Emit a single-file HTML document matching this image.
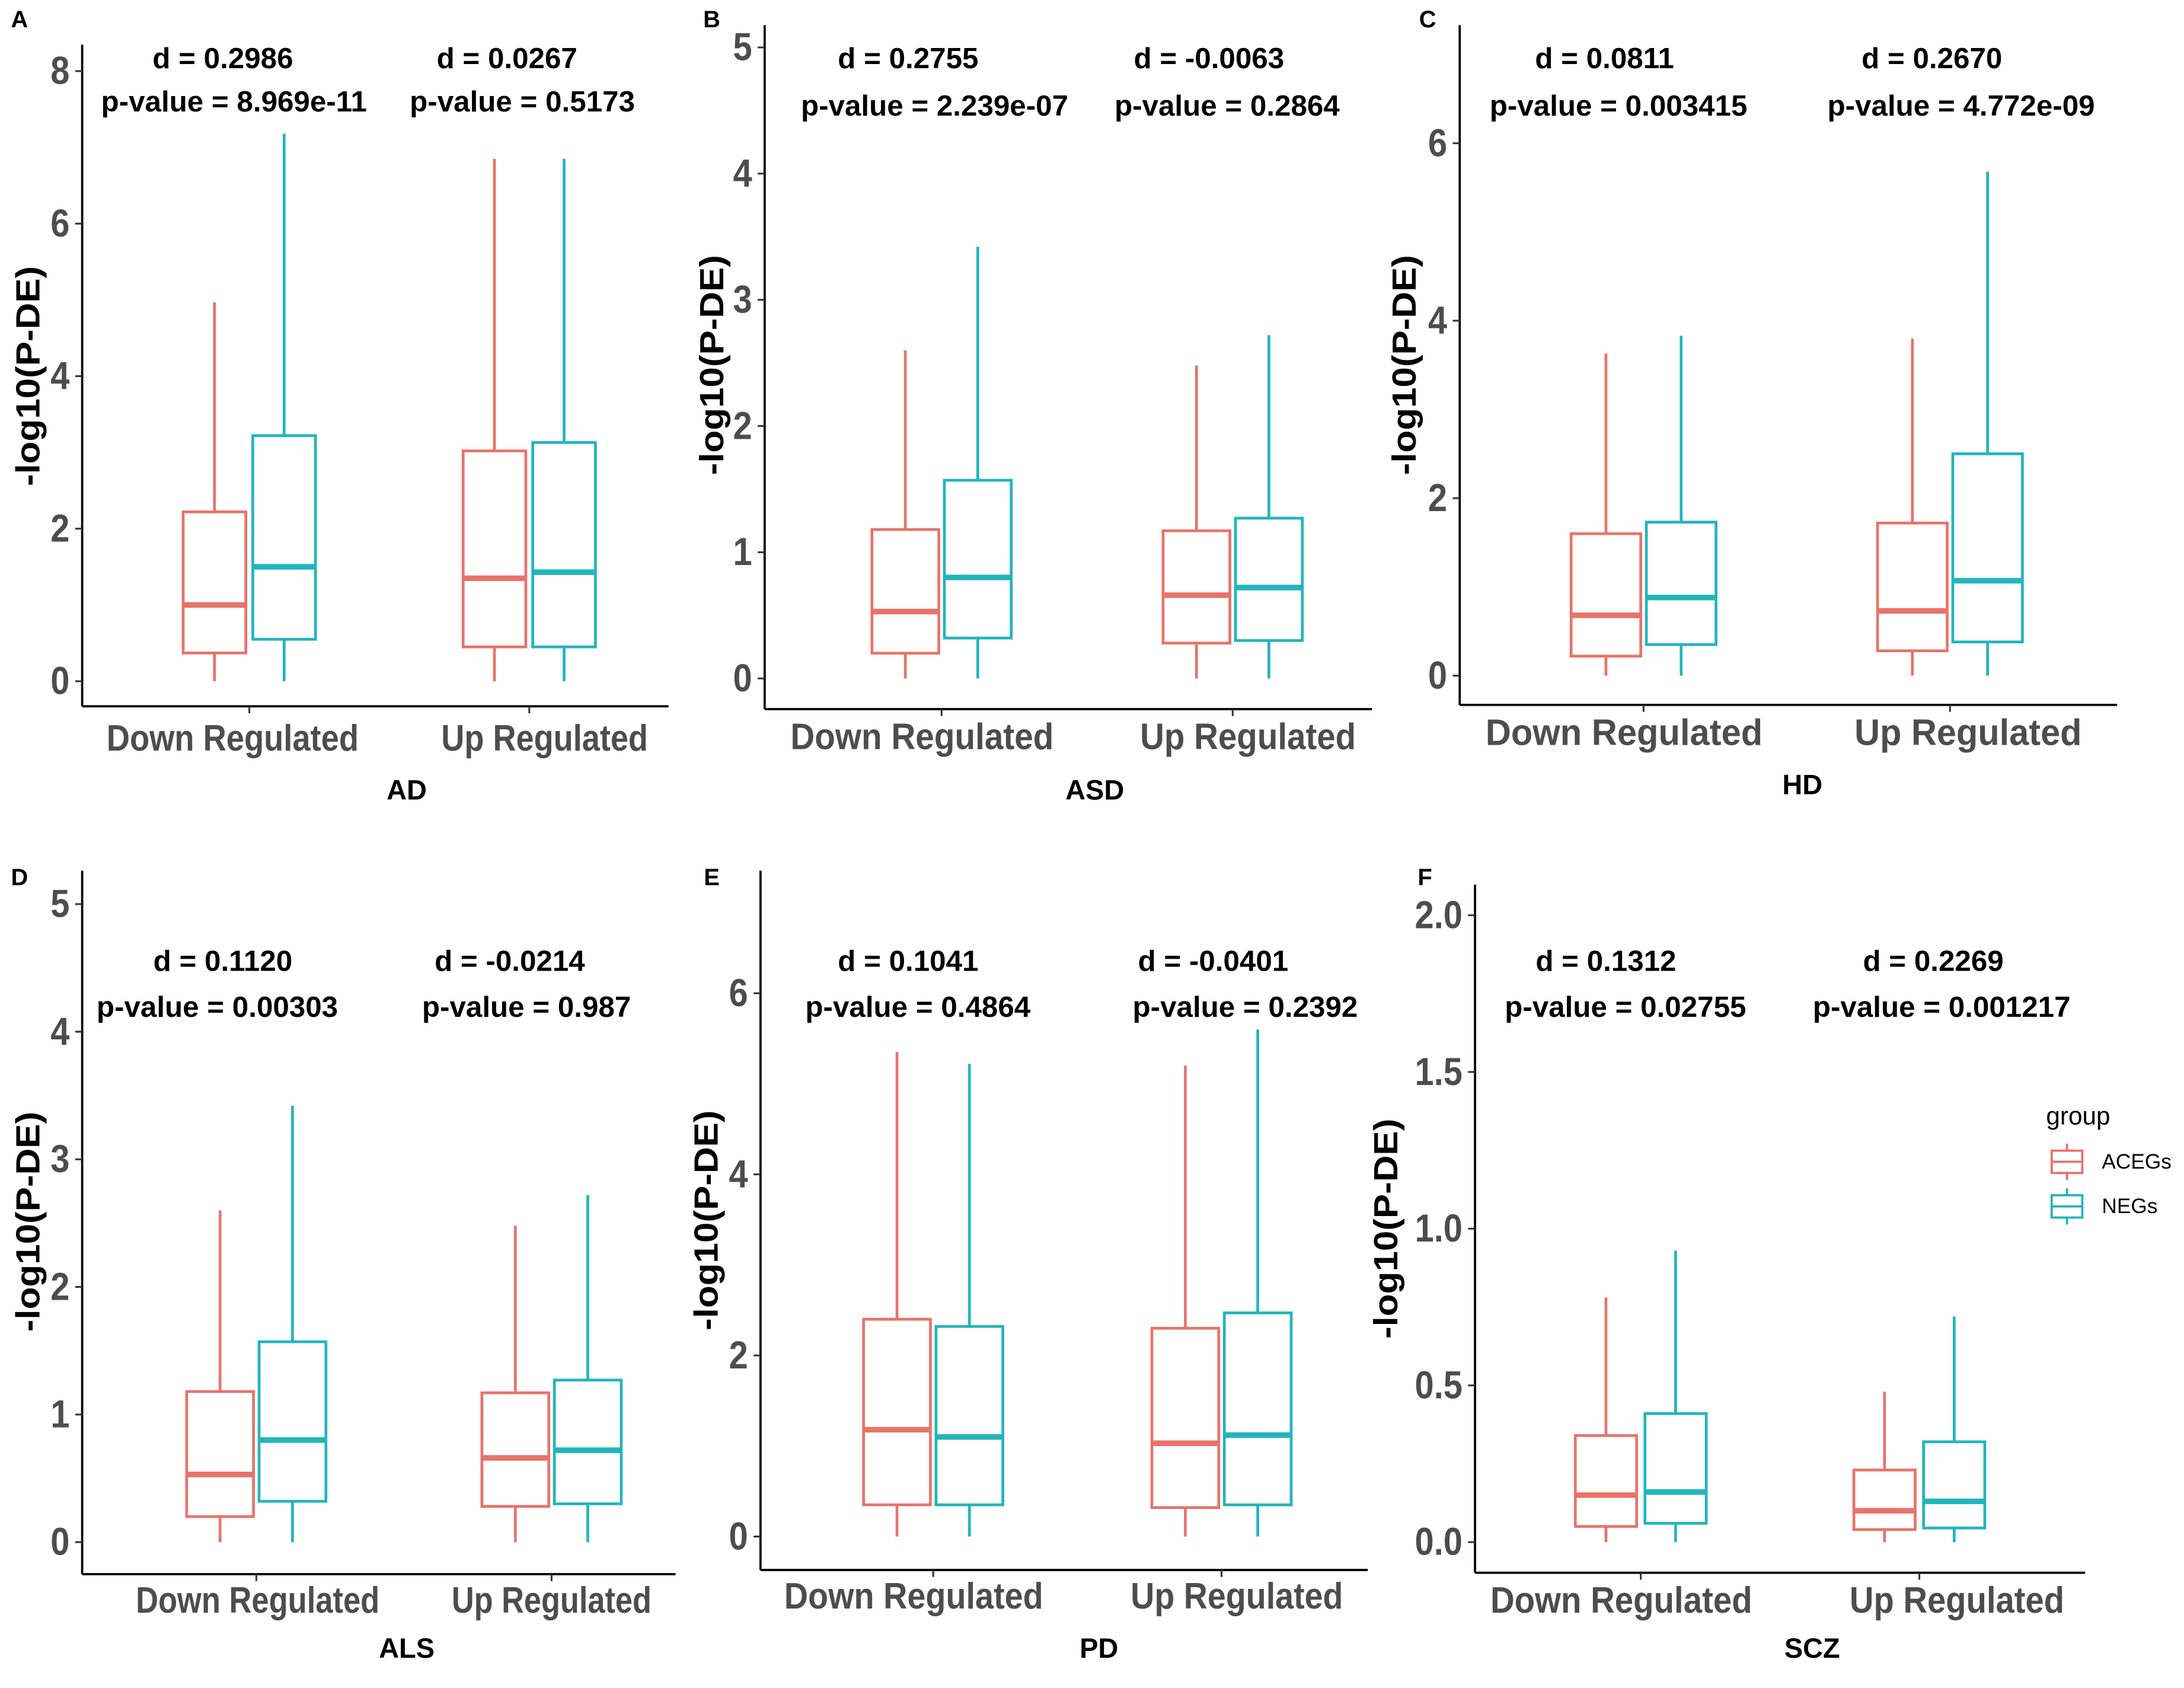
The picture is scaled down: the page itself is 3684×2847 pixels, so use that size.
<!DOCTYPE html>
<html><head><meta charset="utf-8"><style>
html,body{margin:0;padding:0;background:#fff}
svg{display:block}
text{font-family:"Liberation Sans",Arial,sans-serif}
</style></head><body>
<svg id="fig" width="3684" height="2847" viewBox="0 0 1568 1211.7" xmlns="http://www.w3.org/2000/svg"></svg>
<script>
const NS="http://www.w3.org/2000/svg";
const svg=document.getElementById('fig');
const categories=["Down Regulated","Up Regulated"];
const groups=["ACEGs","NEGs"];
const panelTitles=["AD","ASD","HD","ALS","PD","SCZ"];
const panelLetters=["A","B","C","D","E","F"];
// stats per panel: [category][group] = [min,q1,median,q3,max]
const statsAD=[[[0,0.37,1.0,2.22,4.97],[0,0.55,1.5,3.22,7.18]],[[0,0.45,1.35,3.02,6.85],[0,0.45,1.43,3.13,6.85]]];
const statsASD=[[[0,0.2,0.53,1.18,2.6],[0,0.32,0.8,1.57,3.42]],[[0,0.28,0.66,1.17,2.48],[0,0.3,0.72,1.27,2.72]]];
const statsHD=[[[0,0.22,0.68,1.6,3.63],[0,0.35,0.88,1.73,3.83]],[[0,0.28,0.73,1.72,3.8],[0,0.38,1.07,2.5,5.68]]];
const statsALS=[[[0,0.2,0.53,1.18,2.6],[0,0.32,0.8,1.57,3.42]],[[0,0.28,0.66,1.17,2.48],[0,0.3,0.72,1.27,2.72]]];
const statsPD=[[[0,0.35,1.18,2.4,5.35],[0,0.35,1.1,2.32,5.22]],[[0,0.32,1.03,2.3,5.2],[0,0.35,1.12,2.47,5.6]]];
const statsSCZ=[[[0,0.05,0.15,0.34,0.78],[0,0.06,0.16,0.41,0.93]],[[0,0.04,0.1,0.23,0.48],[0,0.045,0.13,0.32,0.72]]];
const dLabels=[["d = 0.2986","d = 0.0267"],["d = 0.2755","d = -0.0063"],["d = 0.0811","d = 0.2670"],["d = 0.1120","d = -0.0214"],["d = 0.1041","d = -0.0401"],["d = 0.1312","d = 0.2269"]];
const pLabels=[["p-value = 8.969e-11","p-value = 0.5173"],["p-value = 2.239e-07","p-value = 0.2864"],["p-value = 0.003415","p-value = 4.772e-09"],["p-value = 0.00303","p-value = 0.987"],["p-value = 0.4864","p-value = 0.2392"],["p-value = 0.02755","p-value = 0.001217"]];
const ticksAD=[0,2,4,6,8], ticksASD=[0,1,2,3,4,5], ticksHD=[0,2,4,6], ticksALS=[0,1,2,3,4,5], ticksPD=[0,2,4,6], ticksSCZ=[0,0.5,1.0,1.5,2.0];
const allStats=[statsAD,statsASD,statsHD,statsALS,statsPD,statsSCZ];
const allTicks=[ticksAD,ticksASD,ticksHD,ticksALS,ticksPD,ticksSCZ];
const colors=["#e8736a","#22b5bb"];
const layout=[
 {ax:59,top:32,bot:507,right:480,y0:489,ppu:54.75,cx:[179,380],off:25,bw:45,lab:[167,391],labW:181,labDy:23,ann:[[160,168],[364,375]],annY:[42,73],tx:292,ty:567,lx:14,ly:14,yt:[20,270],dec:0},
 {ax:549,top:18,bot:509,right:985,y0:487,ppu:90.6,cx:[676,885],off:26,bw:48,lab:[662,896],labW:189,labDy:20,ann:[[652,671],[868,881]],annY:[42,76],tx:786,ty:567,lx:511,ly:14,yt:[511,262],dec:0},
 {ax:1048,top:18,bot:506,right:1520,y0:485,ppu:63.7,cx:[1180,1400],off:27,bw:50,lab:[1166,1413],labW:199,labDy:20,ann:[[1152,1162],[1387,1408]],annY:[42,76],tx:1294,ty:563,lx:1025,ly:14,yt:[1008,262],dec:0},
 {ax:59,top:625,bot:1130,right:485,y0:1107,ppu:91.6,cx:[184,396],off:26,bw:48,lab:[185,396],labW:175,labDy:19,ann:[[160,156],[366,378]],annY:[690,723],tx:292,ty:1183,lx:14,ly:630,yt:[20,877],dec:0},
 {ax:546,top:625,bot:1127,right:982,y0:1103,ppu:65,cx:[670,877],off:26,bw:48,lab:[656,888],labW:186,labDy:19,ann:[[652,659],[871,894]],annY:[690,723],tx:789,ty:1183,lx:511,ly:630,yt:[507,876],dec:0},
 {ax:1059,top:635,bot:1129,right:1497,y0:1107,ppu:225,cx:[1178,1378],off:25,bw:44,lab:[1164,1405],labW:188,labDy:20,ann:[[1153,1167],[1388,1394]],annY:[690,723],tx:1301,ty:1183,lx:1023,ly:630,yt:[995,882],dec:1}
];
function el(tag,attrs,parent,txt){const e=document.createElementNS(NS,tag);for(const k in attrs)e.setAttribute(k,attrs[k]);if(txt!==undefined)e.textContent=txt;(parent||svg).appendChild(e);return e;}
allStats.forEach((stats,pi)=>{
  const L=layout[pi];
  const g=el('g',{});
  
  
  const y=v=>L.y0-v*L.ppu;
  const letter=el('text',{x:L.lx,y:L.ly,'font-size':17,'font-weight':'bold','dominant-baseline':'central','text-anchor':'middle'},g,panelLetters[pi]);
  
  
  const ya=el('line',{x1:L.ax,y1:L.top,x2:L.ax,y2:L.bot,stroke:'#000','stroke-width':1.6},g);
  
  
  const xa=el('line',{x1:L.ax,y1:L.bot,x2:L.right,y2:L.bot,stroke:'#000','stroke-width':1.6},g);
  
  
  allTicks[pi].forEach(t=>{
    el('line',{x1:L.ax-5,y1:y(t),x2:L.ax,y2:y(t),stroke:'#333','stroke-width':1.3},g);
    const tl=el('text',{x:0,y:0,'font-size':28,'font-weight':'bold',fill:'#4d4d4d','text-anchor':'end','dominant-baseline':'central',transform:`translate(${L.ax-9},${y(t)}) scale(0.88,1)`},g,L.dec?t.toFixed(1):String(t));
    
    
  });
  const yt=el('text',{x:0,y:0,'font-size':24,'font-weight':'bold','text-anchor':'middle','dominant-baseline':'central',textLength:158,lengthAdjust:'spacingAndGlyphs',transform:`translate(${L.yt[0]},${L.yt[1]}) rotate(-90)`},g,'-log10(P-DE)');
  
  
  categories.forEach((c,ci)=>{
    const cx=L.cx[ci];
    el('line',{x1:cx,y1:L.bot,x2:cx,y2:L.bot+5,stroke:'#333','stroke-width':1.3},g);
    const w=ci===0?L.labW:L.labW*0.82;
    const cl=el('text',{x:L.lab[ci],y:L.bot+L.labDy,'font-size':26.5,'font-weight':'bold',fill:'#4d4d4d','text-anchor':'middle','dominant-baseline':'central',textLength:w,lengthAdjust:'spacingAndGlyphs'},g,c);
    
    
    const dl=el('text',{x:L.ann[ci][0],y:L.annY[0],'font-size':21,'font-weight':'bold','text-anchor':'middle','dominant-baseline':'central'},g,dLabels[pi][ci]);
    
    
    const pl=el('text',{x:L.ann[ci][1],y:L.annY[1],'font-size':21,'font-weight':'bold','text-anchor':'middle','dominant-baseline':'central'},g,pLabels[pi][ci]);
    
    
    groups.forEach((gr,gi)=>{
      const s=stats[ci][gi];
      const bx=cx+(gi===0?-L.off:L.off);
      const col=colors[gi];
      const bg=el('g',{},g);
      
      
      el('line',{x1:bx,y1:y(s[0]),x2:bx,y2:y(s[1]),stroke:col,'stroke-width':2},bg);
      el('line',{x1:bx,y1:y(s[3]),x2:bx,y2:y(s[4]),stroke:col,'stroke-width':2},bg);
      el('rect',{x:bx-L.bw/2,y:y(s[3]),width:L.bw,height:y(s[1])-y(s[3]),fill:'#fff',stroke:col,'stroke-width':2},bg);
      el('line',{x1:bx-L.bw/2,y1:y(s[2]),x2:bx+L.bw/2,y2:y(s[2]),stroke:col,'stroke-width':4},bg);
    });
  });
  const xt=el('text',{x:L.tx,y:L.ty,'font-size':20,'font-weight':'bold','text-anchor':'middle','dominant-baseline':'central'},g,panelTitles[pi]);
  
  
});
const lg=el('g',{});


el('text',{x:1469,y:801,'font-size':18,'dominant-baseline':'central'},lg,'group');
groups.forEach((gr,gi)=>{
  const cy=834+gi*32, col=colors[gi];
  const e=el('g',{},lg);
  
  
  el('line',{x1:1484,y1:cy-13,x2:1484,y2:cy+13,stroke:col,'stroke-width':1.6},e);
  el('rect',{x:1473,y:cy-8,width:22,height:16,fill:'#fff',stroke:col,'stroke-width':1.6},e);
  el('line',{x1:1473,y1:cy,x2:1495,y2:cy,stroke:col,'stroke-width':1.6},e);
  el('text',{x:1509,y:cy,'font-size':15,'dominant-baseline':'central'},e,gr);
});
</script>
</body></html>
